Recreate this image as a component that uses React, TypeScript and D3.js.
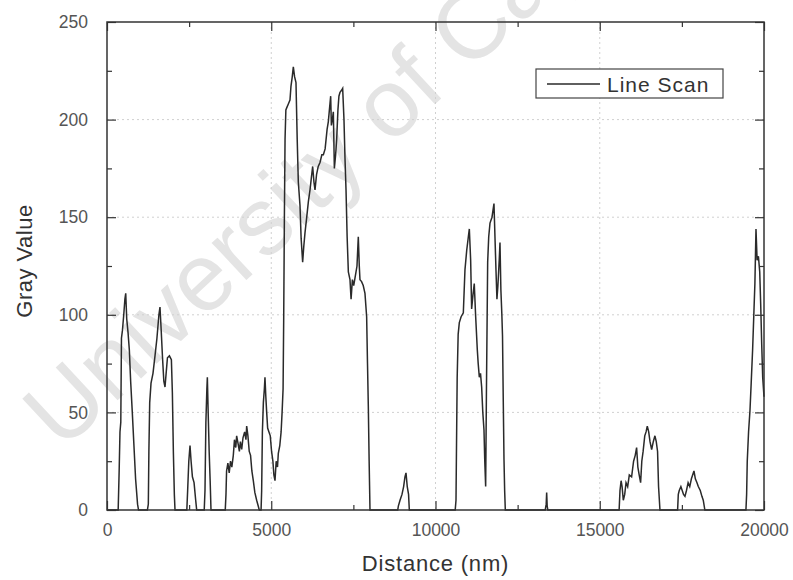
import React, { useEffect, useRef } from 'react';
import * as d3 from 'd3';

// line scan, one array per bump: [distance nm, gray value]
const bump1 = [[0, 0], [340, 0], [370, 20], [395, 40], [420, 45], [440, 88], [470, 92], [510, 100], [545, 108], [570, 111], [600, 98], [640, 91], [680, 82], [720, 66], [770, 50], [820, 33], [870, 16], [930, 3], [960, 0]];
const bump2 = [[1230, 0], [1258, 3], [1275, 30], [1300, 55], [1340, 65], [1400, 70], [1461, 79], [1520, 88], [1580, 100], [1613, 104], [1650, 92], [1690, 78], [1730, 66], [1766, 63], [1800, 70], [1840, 78], [1900, 79], [1960, 77], [1990, 60], [2020, 30], [2050, 8], [2070, 0]];
const bump3 = [[2430, 0], [2455, 10], [2490, 25], [2527, 33], [2560, 25], [2600, 17], [2650, 14], [2700, 5], [2730, 0]];
const bump4 = [[2960, 0], [2983, 10], [3010, 45], [3040, 62], [3055, 68], [3080, 50], [3110, 30], [3140, 15], [3166, 0]];
const bump5 = [[3600, 0], [3622, 8], [3640, 20], [3680, 24], [3720, 19], [3760, 25], [3800, 22], [3845, 28], [3880, 36], [3920, 32], [3947, 38], [3990, 34], [4030, 30], [4060, 35], [4100, 31], [4140, 37], [4190, 40], [4230, 36], [4252, 43], [4290, 38], [4330, 30], [4370, 28], [4410, 20], [4454, 15], [4500, 9], [4556, 5], [4636, 0]];
const bigPeak = [[4690, 0], [4708, 10], [4730, 40], [4760, 55], [4790, 62], [4809, 68], [4835, 58], [4861, 50], [4890, 42], [4930, 40], [4970, 38], [5010, 30], [5050, 25], [5080, 18], [5114, 15], [5150, 25], [5190, 22], [5215, 29], [5260, 33], [5300, 40], [5330, 50], [5360, 62], [5380, 100], [5400, 150], [5420, 190], [5445, 205], [5470, 206], [5520, 208], [5570, 210], [5600, 217], [5640, 222], [5672, 227], [5710, 222], [5753, 219], [5790, 190], [5824, 168], [5875, 156], [5910, 139], [5956, 127], [5990, 135], [6027, 142], [6080, 150], [6130, 158], [6180, 164], [6220, 170], [6261, 176], [6300, 168], [6332, 164], [6380, 172], [6430, 176], [6484, 178], [6540, 182], [6586, 182], [6640, 185], [6700, 195], [6738, 199], [6770, 205], [6809, 212], [6830, 197], [6860, 200], [6890, 204], [6921, 175], [6960, 182], [6992, 190], [7030, 205], [7060, 212], [7093, 214], [7140, 215], [7174, 216], [7214, 200], [7245, 180], [7276, 164], [7310, 140], [7347, 122], [7397, 118], [7430, 108], [7470, 118], [7510, 115], [7560, 120], [7610, 125], [7650, 140], [7680, 125], [7701, 118], [7750, 117], [7800, 115], [7853, 111], [7904, 99], [7930, 75], [7955, 53], [7980, 25], [8006, 0]];
const bump6 = [[8850, 0], [8869, 2], [8920, 5], [8980, 8], [9030, 12], [9070, 17], [9102, 19], [9140, 12], [9180, 8], [9203, 0]];
const twinPeak = [[10600, 0], [10624, 5], [10640, 34], [10660, 68], [10690, 90], [10725, 96], [10780, 99], [10847, 101], [10897, 123], [10950, 133], [11000, 140], [11030, 144], [11070, 128], [11100, 103], [11140, 110], [11180, 116], [11220, 100], [11273, 82], [11300, 75], [11334, 68], [11370, 70], [11405, 63], [11440, 50], [11476, 41], [11500, 25], [11527, 12], [11550, 60], [11588, 127], [11620, 140], [11659, 147], [11720, 150], [11780, 157], [11810, 140], [11841, 123], [11870, 108], [11900, 115], [11940, 128], [11963, 137], [11990, 113], [12020, 100], [12040, 89], [12060, 60], [12085, 26], [12105, 10], [12125, 0]];
const spike = [[13340, 0], [13370, 3], [13384, 9], [13400, 2], [13420, 0]];
const bump7 = [[15590, 0], [15616, 10], [15650, 15], [15680, 12], [15717, 5], [15760, 8], [15800, 14], [15850, 12], [15900, 18], [15970, 17], [16030, 25], [16080, 28], [16122, 32], [16160, 22], [16200, 18], [16244, 14], [16280, 25], [16320, 30], [16370, 38], [16410, 40], [16447, 43], [16490, 40], [16530, 35], [16580, 31], [16630, 35], [16680, 38], [16720, 35], [16760, 30], [16790, 12], [16833, 0]];
const bump8 = [[17370, 0], [17391, 8], [17420, 10], [17470, 12], [17510, 10], [17550, 8], [17594, 7], [17640, 10], [17690, 14], [17740, 12], [17790, 16], [17830, 18], [17868, 20], [17910, 16], [17960, 14], [18000, 12], [18060, 10], [18110, 7], [18151, 5], [18200, 0]];
const lastPeak = [[19450, 0], [19471, 8], [19490, 25], [19530, 40], [19573, 51], [19610, 65], [19653, 82], [19690, 100], [19723, 116], [19756, 144], [19790, 128], [19830, 130], [19870, 122], [19900, 105], [19930, 85], [19960, 68], [20000, 58]];

const lineScan = [...bump1, ...bump2, ...bump3, ...bump4, ...bump5, ...bigPeak, ...bump6, ...twinPeak, ...spike, ...bump7, ...bump8, ...lastPeak];

const xTicks = [0, 5000, 10000, 15000, 20000];
const yTicks = [0, 50, 100, 150, 200, 250];
const xMinor = [2500, 7500, 12500, 17500];
const yMinor = [25, 75, 125, 175, 225];

const W = 793;
const H = 580;

const App = () => {
  const svgRef = useRef(null);

  useEffect(() => {
    document.body.style.margin = '0';
    document.body.style.overflow = 'hidden';

    const margin = { top: 22, right: 29, bottom: 70, left: 107 };
    const width = W - margin.left - margin.right;
    const height = H - margin.top - margin.bottom;

    const svg = d3.select(svgRef.current);
    svg.selectAll('*').remove();

    svg.append('rect').attr('width', W).attr('height', H).attr('fill', '#fff');

    const x = d3.scaleLinear().domain([0, 20000]).range([0, width]);
    const y = d3.scaleLinear().domain([0, 250]).range([height, 0]);

    const font = 'Liberation Sans, Arial, sans-serif';

    // watermark
    svg.append('text')
      .attr('transform', 'translate(62,452) rotate(-43)')
      .attr('font-family', font)
      .attr('font-size', 96)
      .attr('fill', '#e4e4e4')
      .text('University of Cape Town');

    const chart = svg.append('g').attr('transform', `translate(${margin.left},${margin.top})`);

    // dotted grid
    chart.append('g')
      .selectAll('line')
      .data(xTicks.slice(1, -1))
      .join('line')
      .attr('x1', d => x(d)).attr('x2', d => x(d))
      .attr('y1', 0).attr('y2', height)
      .attr('stroke', '#d0d0d0').attr('stroke-dasharray', '2,3');
    chart.append('g')
      .selectAll('line')
      .data(yTicks.slice(1, -1))
      .join('line')
      .attr('y1', d => y(d)).attr('y2', d => y(d))
      .attr('x1', 0).attr('x2', width)
      .attr('stroke', '#d0d0d0').attr('stroke-dasharray', '2,3');

    const line = d3.line()
      .x(d => x(d[0]))
      .y(d => y(d[1]));

    chart.append('path')
      .datum(lineScan)
      .attr('fill', 'none')
      .attr('stroke', '#2a2a2a')
      .attr('stroke-width', 1.5)
      .attr('d', line);

    // axes with inward ticks on all four sides
    const axisColor = '#333';
    const styleAxis = (g) => {
      g.select('.domain').remove();
      g.selectAll('.tick line').attr('stroke', axisColor).attr('stroke-width', 1.2);
      g.selectAll('.tick text').attr('fill', '#555').attr('font-family', font).attr('font-size', 17.5);
    };

    chart.append('g').attr('transform', `translate(0,${height})`)
      .call(d3.axisBottom(x).tickValues(xTicks).tickSize(-9).tickPadding(14).tickFormat(d3.format('d')))
      .call(styleAxis);
    chart.append('g').attr('transform', `translate(0,${height})`)
      .call(d3.axisBottom(x).tickValues(xMinor).tickSize(-5).tickFormat(() => ''))
      .call(styleAxis);
    chart.append('g')
      .call(d3.axisTop(x).tickValues(xTicks).tickSize(-9).tickFormat(() => ''))
      .call(styleAxis);
    chart.append('g')
      .call(d3.axisTop(x).tickValues(xMinor).tickSize(-5).tickFormat(() => ''))
      .call(styleAxis);
    chart.append('g')
      .call(d3.axisLeft(y).tickValues(yTicks).tickSize(-9).tickPadding(19))
      .call(styleAxis);
    chart.append('g')
      .call(d3.axisLeft(y).tickValues(yMinor).tickSize(-5).tickFormat(() => ''))
      .call(styleAxis);
    chart.append('g').attr('transform', `translate(${width},0)`)
      .call(d3.axisRight(y).tickValues(yTicks).tickSize(-9).tickFormat(() => ''))
      .call(styleAxis);
    chart.append('g').attr('transform', `translate(${width},0)`)
      .call(d3.axisRight(y).tickValues(yMinor).tickSize(-5).tickFormat(() => ''))
      .call(styleAxis);

    chart.append('rect')
      .attr('width', width).attr('height', height)
      .attr('fill', 'none').attr('stroke', axisColor).attr('stroke-width', 1.5);

    // legend
    const legend = chart.append('g').attr('transform', 'translate(429,47)');
    legend.append('rect')
      .attr('width', 187).attr('height', 29)
      .attr('fill', '#fff').attr('stroke', '#444').attr('stroke-width', 1.2);
    legend.append('line')
      .attr('x1', 11).attr('x2', 64).attr('y1', 15).attr('y2', 15)
      .attr('stroke', '#2a2a2a').attr('stroke-width', 1.4);
    legend.append('text')
      .attr('x', 71).attr('y', 22.5)
      .attr('font-family', font).attr('font-size', 21).attr('letter-spacing', 1)
      .attr('fill', '#333')
      .text('Line Scan');

    // axis titles
    svg.append('text')
      .attr('x', margin.left + width / 2)
      .attr('y', 571)
      .attr('text-anchor', 'middle')
      .attr('font-family', font).attr('font-size', 22).attr('letter-spacing', 0.8)
      .attr('fill', '#333')
      .text('Distance (nm)');
    svg.append('text')
      .attr('transform', `translate(32,${margin.top + height / 2 - 5}) rotate(-90)`)
      .attr('text-anchor', 'middle')
      .attr('font-family', font).attr('font-size', 22).attr('letter-spacing', 0.5)
      .attr('fill', '#333')
      .text('Gray Value');
  }, []);

  return <svg ref={svgRef} width={W} height={H} style={{ display: 'block' }} />;
};

export default App;
